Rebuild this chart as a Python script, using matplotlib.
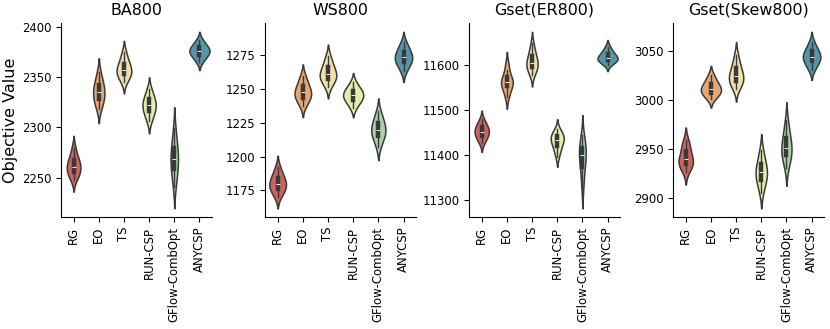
import numpy as np
import pandas as pd
import matplotlib
matplotlib.use("Agg")
import matplotlib.pyplot as plt
from matplotlib.ticker import MultipleLocator
import seaborn as sns

methods = ["RG", "EO", "TS", "RUN-CSP", "GFlow-CombOpt", "ANYCSP"]
titles = ["BA800", "WS800", "Gset(ER800)", "Gset(Skew800)"]
ystep = [50, 25, 100, 50]

# objective values per method (RG, EO, TS, RUN-CSP, GFlow-CombOpt, ANYCSP)
ba800 = [
    [2248, 2252, 2255, 2257, 2259, 2261, 2264, 2266, 2269, 2273, 2280],
    [2318, 2323, 2327, 2330, 2332, 2335, 2338, 2341, 2344, 2348, 2355],
    [2345, 2349, 2352, 2354, 2355, 2357, 2360, 2362, 2365, 2369, 2375],
    [2306, 2311, 2315, 2317, 2320, 2322, 2324, 2327, 2329, 2333, 2338],
    [2241, 2250, 2256, 2261, 2265, 2269, 2273, 2277, 2282, 2289, 2299],
    [2365, 2369, 2371, 2373, 2375, 2376, 2377, 2379, 2381, 2383, 2387],
]
ws800 = [
    [1170, 1173.5, 1175.5, 1177, 1178.5, 1180, 1181.5, 1183.5, 1185.5, 1188, 1192.5],
    [1237.5, 1241, 1243, 1244.5, 1246, 1247.5, 1249, 1251, 1253, 1256, 1260],
    [1251.5, 1255, 1257, 1258.5, 1259.5, 1261, 1263, 1265, 1267, 1270, 1274.5],
    [1236, 1239.5, 1241.5, 1243, 1244, 1245.5, 1247, 1248, 1249.5, 1251.5, 1255],
    [1207, 1212, 1214.5, 1216.5, 1218, 1220, 1222, 1224, 1226, 1229, 1233.5],
    [1263, 1267, 1269, 1270.5, 1272, 1273.5, 1275, 1276.5, 1278.5, 1281, 1284.5],
]
er800 = [
    [11427, 11436, 11441, 11446, 11449, 11453, 11457, 11461, 11465, 11471, 11480],
    [11530, 11540, 11551, 11556, 11560, 11563, 11566, 11570, 11577, 11590, 11604],
    [11579, 11588, 11594, 11598, 11602, 11606, 11612, 11618, 11625, 11634, 11649],
    [11397, 11410, 11418, 11424, 11430, 11435, 11438, 11441.5, 11445, 11450, 11458],
    [11326, 11353, 11369, 11381, 11391, 11401, 11408, 11414, 11421, 11430, 11446],
    [11602, 11607, 11610.5, 11613, 11615, 11617, 11620, 11624, 11628, 11633, 11642],
]
skew800 = [
    [2926, 2931, 2933, 2935.5, 2937, 2939, 2942, 2946, 2950, 2954, 2959],
    [3001, 3004, 3006.5, 3008, 3009.5, 3011, 3013, 3015, 3017.5, 3020.5, 3025.5],
    [3011, 3015, 3018, 3020, 3022, 3024, 3027, 3030, 3034, 3038, 3046],
    [2905, 2912.5, 2917, 2920, 2923, 2926, 2929, 2932, 2936, 2941, 2949],
    [2930, 2937.5, 2942, 2945, 2948, 2951, 2955, 2959, 2963.5, 2969.5, 2979.5],
    [3030.5, 3035, 3038, 3040.5, 3042, 3044, 3046, 3048, 3050.5, 3053.5, 3059],
]
panels = [ba800, ws800, er800, skew800]

fig, axes = plt.subplots(1, 4, figsize=(8.3, 3.29), dpi=100)
fig.subplots_adjust(left=0.0735, right=0.993, bottom=0.34, top=0.93, wspace=0.351)

for ax, data, title, step in zip(axes, panels, titles, ystep):
    df = pd.DataFrame({
        "method": np.repeat(methods, [len(v) for v in data]),
        "value": np.concatenate(data),
    })
    sns.violinplot(data=df, x="method", y="value", hue="method", order=methods,
                   hue_order=methods, palette="Spectral", legend=False,
                   common_norm=True, linewidth=1.1, linecolor="#3a3a3a",
                   inner_kws=dict(box_width=3.2, whis_width=1), ax=ax)
    ax.set_title(title, fontsize=11.4)
    ax.set_xlabel("")
    ax.set_ylabel("")
    ax.yaxis.set_major_locator(MultipleLocator(step))
    ax.tick_params(axis="both", labelsize=8.4)
    ax.tick_params(axis="x", labelrotation=90)
    sns.despine(ax=ax)

axes[0].set_ylabel("Objective Value", fontsize=11.5, labelpad=3)

fig.savefig("out.png", dpi=100)
